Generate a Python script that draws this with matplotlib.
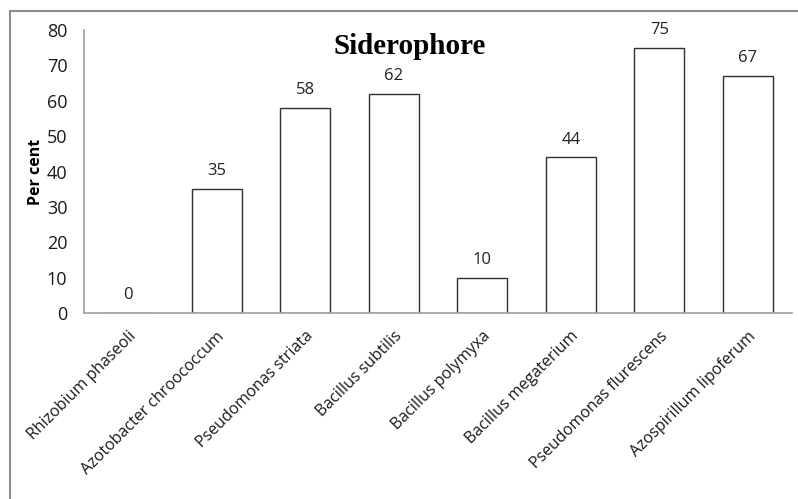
import matplotlib.pyplot as plt
from matplotlib.patches import Rectangle

strains = ["Rhizobium phaseoli", "Azotobacter chroococcum", "Pseudomonas striata",
           "Bacillus subtilis", "Bacillus polymyxa", "Bacillus megaterium",
           "Pseudomonas flurescens", "Azospirillum lipoferum"]
percent = [0, 35, 58, 62, 10, 44, 75, 67]
yticks = [0, 10, 20, 30, 40, 50, 60, 70, 80]

fig = plt.figure(figsize=(7.98, 4.99), dpi=100)
ax = fig.add_axes([0.1053, 0.3727, 0.8872, 0.5672])

# outer chart frame (runs off the right and bottom edges)
fig.patches.append(Rectangle((10 / 798, -0.1), 1.2, 1 - 11 / 499 + 0.1,
                             transform=fig.transFigure, fill=False,
                             edgecolor="#8c8c8c", linewidth=1.5))

x = range(len(strains))
bars = ax.bar(x, percent, width=0.57, color="white", edgecolor="#303030",
              linewidth=1.0)
for xi, v in zip(x, percent):
    ax.annotate(str(v), (xi, v), xytext=(0, 7), textcoords="offset points",
                ha="center", va="bottom", fontsize=12, family="Open Sans",
                color="#222222")

ax.set_xlim(-0.5, len(strains) - 0.5)
ax.set_ylim(0, 80)
ax.set_yticks(yticks)
ax.set_xticks(list(x))
ax.set_xticklabels(strains, rotation=45, ha="right", rotation_mode="anchor",
                   fontsize=11.5, family="Open Sans", color="#1a1a1a")
for lbl in ax.get_yticklabels():
    lbl.set_fontsize(13)
    lbl.set_family("Open Sans")
    lbl.set_color("#1a1a1a")
ax.tick_params(length=0)
ax.tick_params(axis="y", pad=12)
ax.tick_params(axis="x", pad=11)

for side in ["top", "right"]:
    ax.spines[side].set_visible(False)
for side in ["left", "bottom"]:
    ax.spines[side].set_color("#a0a0a0")
    ax.spines[side].set_linewidth(1.2)

ax.set_ylabel("Per cent", fontsize=11.5, fontweight="bold", family="Open Sans",
              labelpad=2)
ax.text(0.46, 0.943, "Siderophore", transform=ax.transAxes, ha="center",
        va="center", fontsize=21, fontweight="bold", family="Liberation Serif")

fig.savefig("out.png", dpi=100)
